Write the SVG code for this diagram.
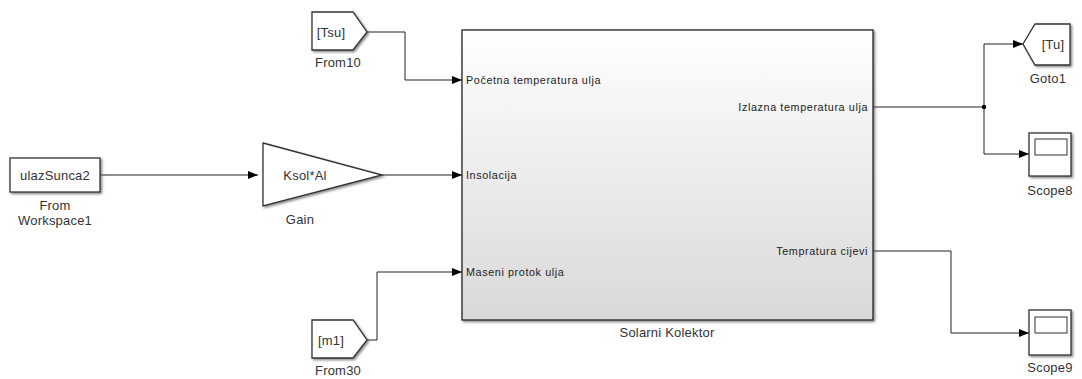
<svg xmlns="http://www.w3.org/2000/svg" width="1082" height="379" viewBox="0 0 1082 379">
<defs>
<linearGradient id="g" x1="0" y1="0" x2="0" y2="1">
<stop offset="0" stop-color="#ffffff"/>
<stop offset="1" stop-color="#d9d9d9"/>
</linearGradient>
<marker id="a" markerWidth="10" markerHeight="8" refX="10" refY="4" orient="auto" markerUnits="userSpaceOnUse">
<path d="M0,0 L10,4 L0,8 z" fill="#000"/>
</marker>
<filter id="sh" x="-5%" y="-5%" width="115%" height="115%">
<feDropShadow dx="1.5" dy="1.5" stdDeviation="0.8" flood-color="#555" flood-opacity="0.7"/>
</filter>
</defs>
<style>
.blk{fill:#fff;stroke:#333;stroke-width:1.3;filter:url(#sh)}
.t{font-family:"Liberation Sans",Arial,sans-serif;font-size:13px;fill:#333;letter-spacing:0.2px}
.p{font-family:"Liberation Sans",Arial,sans-serif;font-size:10.8px;fill:#222;letter-spacing:0.6px}
.w{fill:none;stroke:#222;stroke-width:1}
</style>
<rect width="1082" height="379" fill="#fff"/>
<g id="connectors">
<path class="w" d="M100,175 H258" marker-end="url(#a)"/>
<path class="w" d="M382,175 H462" marker-end="url(#a)"/>
<path class="w" d="M367,32 H405 V80 H462" marker-end="url(#a)"/>
<path class="w" d="M367,340 H377 V272 H462" marker-end="url(#a)"/>
<path class="w" d="M873,107 H984 V44 H1023" marker-end="url(#a)"/>
<path class="w" d="M984,107 V154 H1029" marker-end="url(#a)"/>
<path class="w" d="M873,251 H951 V333 H1029" marker-end="url(#a)"/>
<circle cx="984" cy="107" r="2.2" fill="#000"/>
</g>
<g id="fromWorkspace">
<rect class="blk" x="10" y="158" width="90" height="34"/>
<text class="t" x="55" y="180" text-anchor="middle">ulazSunca2</text>
<text class="t" x="55" y="210" text-anchor="middle">From</text>
<text class="t" x="55" y="225" text-anchor="middle">Workspace1</text>
</g>
<g id="gain">
<path class="blk" d="M263,143 L382,175 L263,206 Z"/>
<text class="t" x="305" y="180" text-anchor="middle">Ksol*Al</text>
<text class="t" x="300" y="224" text-anchor="middle">Gain</text>
</g>
<g id="from10">
<path class="blk" d="M312,12 H353 L367,32 L353,50 H312 Z"/>
<text class="t" x="331" y="37" text-anchor="middle">[Tsu]</text>
<text class="t" x="338" y="67" text-anchor="middle">From10</text>
</g>
<g id="from30">
<path class="blk" d="M312,320 H353 L367,340 L353,358 H312 Z"/>
<text class="t" x="331" y="345" text-anchor="middle">[m1]</text>
<text class="t" x="338" y="375" text-anchor="middle">From30</text>
</g>
<g id="solarni">
<rect x="462" y="30" width="411" height="290" fill="url(#g)" stroke="#222" stroke-width="1.3" filter="url(#sh)"/>
<text class="p" x="466" y="84">Početna temperatura ulja</text>
<text class="p" x="466" y="179">Insolacija</text>
<text class="p" x="466" y="276">Maseni protok ulja</text>
<text class="p" x="868" y="111" text-anchor="end">Izlazna temperatura ulja</text>
<text class="p" x="868" y="255" text-anchor="end">Tempratura cijevi</text>
<text class="t" x="667" y="337" text-anchor="middle">Solarni Kolektor</text>
</g>
<g id="goto1">
<path class="blk" d="M1023,44 L1035,24 H1070 V65 H1035 Z"/>
<text class="t" x="1053" y="49" text-anchor="middle">[Tu]</text>
<text class="t" x="1048" y="83" text-anchor="middle">Goto1</text>
</g>
<g id="scope8">
<rect class="blk" x="1029" y="133" width="42" height="43"/>
<rect x="1035" y="139" width="32" height="16" fill="#fff" stroke="#333" stroke-width="1"/>
<text class="t" x="1050" y="195" text-anchor="middle">Scope8</text>
</g>
<g id="scope9">
<rect class="blk" x="1029" y="310" width="42" height="45"/>
<rect x="1035" y="317" width="32" height="16" fill="#fff" stroke="#333" stroke-width="1"/>
<text class="t" x="1050" y="372" text-anchor="middle">Scope9</text>
</g>
</svg>
